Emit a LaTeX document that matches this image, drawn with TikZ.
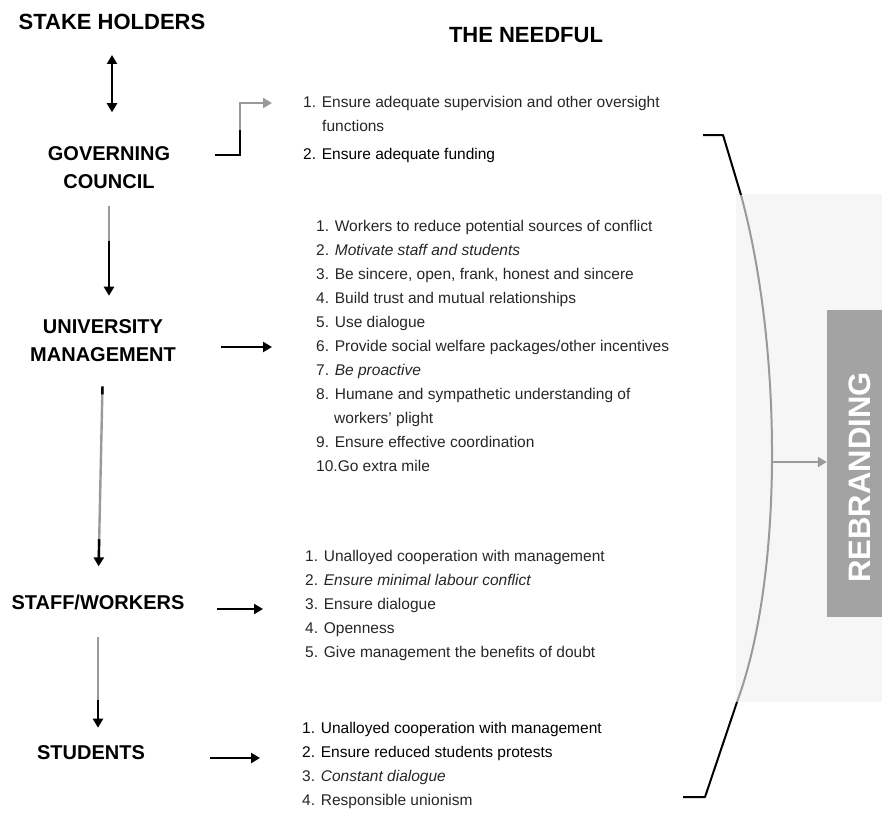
\documentclass[tikz,border=0pt]{standalone}
\usepackage{fontspec}
\setmainfont{Liberation Sans}
\usetikzlibrary{arrows.meta,calc}
\definecolor{sdGray}{HTML}{9A9A9A}
\definecolor{sdBox}{HTML}{A3A3A3}
\definecolor{sdHaze}{HTML}{F6F6F6}
\tikzset{
  sdActor/.style={font=\fontsize{20}{28}\selectfont\bfseries, align=center, inner sep=0pt},
  sdHead/.style={font=\fontsize{22}{26}\selectfont\bfseries, inner sep=0pt},
  sdList/.style={
    font=\fontsize{15.5}{24}\selectfont,
    align=left,
    anchor=north west,
    inner sep=0pt,
    text=black!85
  },
  sdArrow/.style={-{Triangle[length=9pt,width=10pt]}, line width=2.2pt, draw=black},
  sdStem/.style={-{Triangle[length=9pt,width=10pt,color=black]}, line width=2.4pt, draw=sdGray},
  sdBent/.style={-{Triangle[length=9pt,width=10pt]}, line width=2.2pt, draw=sdGray},
  sdInk/.style={line width=2.4pt, draw=black},
  sdBrace/.style={line width=2pt, draw=black, line join=round},
  sdBrand/.style={fill=sdBox, draw=none, inner sep=0pt, minimum width=55pt, minimum height=307pt}
}

\begin{document}
\begin{tikzpicture}[x=1pt, y=-1pt]
  \useasboundingbox (0,0) rectangle (882,815);
  \fill[sdHaze] (736,194) rectangle (882,702);

  % column headings
  \node[sdHead] (sh) at (112,22) {STAKE HOLDERS};
  \node[sdHead] (needful) at (526,35) {THE NEEDFUL};

  % stakeholders, top to bottom
  \node[sdActor] (gc) at (109,167.5) {GOVERNING\\COUNCIL};
  \node[sdActor] (um) at (103,341) {UNIVERSITY\\MANAGEMENT};
  \node[sdActor] (sw) at (98,602) {STAFF/WORKERS};
  \node[sdActor] (st) at (91,753) {STUDENTS};

  % what each group has to do
  \node[sdList] (gclist) at (303,95.7) {%
    1. Ensure adequate supervision and other oversight\\
    \hspace*{19pt}functions\\[4pt]
    \textcolor{black}{2. Ensure adequate funding}};
  \node[sdList] (umlist) at (316,219.7) {%
    1. Workers to reduce potential sources of conflict\\
    2. \textit{Motivate staff and students}\\
    3. Be sincere, open, frank, honest and sincere\\
    4. Build trust and mutual relationships\\
    5. Use dialogue\\
    6. Provide social welfare packages/other incentives\\
    7. \textit{Be proactive}\\
    8. Humane and sympathetic understanding of\\
    \hspace*{18pt}workers' plight\\
    9. Ensure effective coordination\\
    10.Go extra mile};
  \node[sdList] (swlist) at (305,549.7) {%
    1. Unalloyed cooperation with management\\
    2. \textit{Ensure minimal labour conflict}\\
    3. Ensure dialogue\\
    4. Openness\\
    5. Give management the benefits of doubt};
  \node[sdList] (stlist) at (302,721.7) {%
    \textcolor{black}{1. Unalloyed cooperation with management}\\
    \textcolor{black}{2. Ensure reduced students protests}\\
    3. \textit{Constant dialogue}\\
    4. Responsible unionism};

  \node[sdBrand] (rb) at (854.5,463.5) {};
  \node[rotate=90, text=white, font=\fontsize{31}{32}\selectfont\bfseries, inner sep=0pt]
    (rbtext) at ($(rb.center)+(5,14)$) {REBRANDING};

  % chain of stakeholders
  \draw[{Triangle[length=9pt,width=10pt]}-{Triangle[length=9pt,width=10pt]}, line width=2.2pt,
    shorten <=25pt, shorten >=34pt] (sh.south) -- (sh.south |- gc.north);
  \draw[sdStem, shorten <=17pt, shorten >=24pt] (gc.south) -- (gc.south |- um.north);
  \draw[sdInk, shorten <=52pt, shorten >=30pt] (gc.south) -- (gc.south |- um.north);
  \draw[sdStem, shorten <=24pt, shorten >=28pt] (um.south) -- (sw.north);
  \draw[sdInk, shorten <=24pt, shorten >=200pt] (um.south) -- (sw.north);
  \draw[sdInk, shorten <=177pt, shorten >=34pt] (um.south) -- (sw.north);
  \draw[sdStem, shorten <=27pt, shorten >=18pt] (sw.south) -- (sw.south |- st.north);
  \draw[sdInk, shorten <=90pt, shorten >=24pt] (sw.south) -- (sw.south |- st.north);

  % arrows into the lists
  \coordinate (gcBend) at (240,155);
  \coordinate (gcIn) at (272,103);
  \draw[sdBent, shorten <=45pt] (gc.east |- gcBend) -- (gcBend) |- (gcIn);
  \draw[sdInk, line width=2.2pt, shorten <=45pt] (gc.east |- gcBend) -- (gcBend) -- ++(0,-25);
  \coordinate (umIn) at (272,347);
  \draw[sdArrow, shorten <=45pt] (um.east |- umIn) -- (umIn);
  \coordinate (swIn) at (263,609);
  \draw[sdArrow, shorten <=32pt] (sw.east |- swIn) -- (swIn);
  \coordinate (stIn) at (260,758);
  \draw[sdArrow, shorten <=65pt] (st.east |- stIn) -- (stIn);

  % bracket gathering all lists
  \draw[sdBrace] (703,135) -- (723,135) -- (741,195);
  \draw[line width=2pt, draw=sdGray] (741,195) .. controls (783,350) and (783,578) .. (737,702);
  \draw[sdBrace] (737,702) -- (705,797) -- (683,797);
  \coordinate (brMid) at (773,462);
  \draw[sdBent, line width=2pt] (brMid) -- (brMid -| rb.west);
\end{tikzpicture}
\end{document}
